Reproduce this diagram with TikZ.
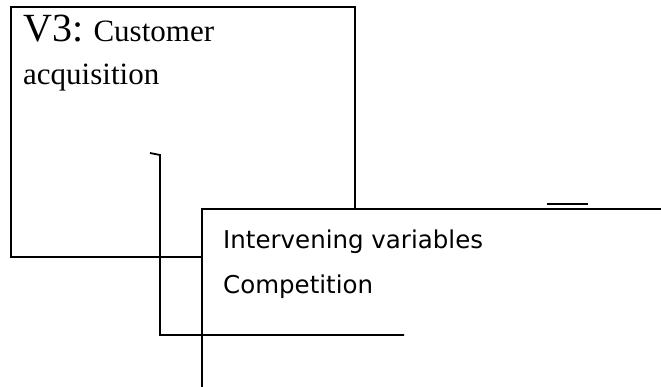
\documentclass[tikz,border=0pt]{standalone}
\usepackage{fontspec}
\setmainfont{Liberation Serif}
\newfontfamily\ivfont{DejaVu Sans}
\usetikzlibrary{positioning}

\begin{document}
\begin{tikzpicture}[x=1pt, y=-1pt,
  every node/.style={inner sep=0pt},
  frame/.style={draw, line width=1.8pt, minimum width=344pt, minimum height=250pt},
  cover/.style={fill=white, minimum width=459pt, minimum height=178pt},
  seriftext/.style={font=\fontsize{31}{36}\selectfont},
  sanstext/.style={font=\ivfont\fontsize{24.5}{28}\selectfont},
  link/.style={line width=1.8pt}
]
\useasboundingbox (0,0) rectangle (661,387);

% outer box, then the box laid over it
\node[frame, anchor=north west] (v3) at (10,6) {};
\node[cover, anchor=north west] (iv) at (202,209) {};
\draw[link] (iv.south west) -- (iv.north west) -- (iv.north east);

\node[seriftext, anchor=base west] (v3head) at (23,42) {{\fontsize{40}{44}\selectfont V3:} Customer};
\node[seriftext, anchor=base west] (v3tail) at (23,85) {acquisition};

\node[sanstext, anchor=base west] (ivhead) at (223,249) {Intervening variables};
\node[sanstext, anchor=base west] (ivcomp) at (223,294) {Competition};

% bracket line
\coordinate (tip) at (150,153);
\coordinate (top) at (160,155);
\coordinate (corner) at (160,335);
\coordinate (lineend) at (404,335);
\draw[link] (tip) -- (top) -- (corner) -- (lineend);

% short dash over the box
\coordinate (dashL) at (547,204);
\coordinate (dashR) at (588,204);
\draw[link] (dashL) -- (dashR);
\end{tikzpicture}
\end{document}
